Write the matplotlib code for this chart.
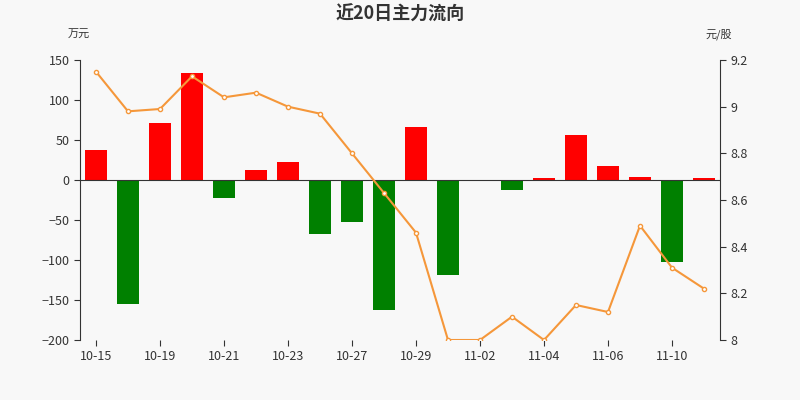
import numpy as np
import matplotlib.pyplot as plt

plt.rcParams['font.family'] = ['Noto Sans CJK SC', 'DejaVu Sans']

dates = ['10-15', '10-18', '10-19', '10-20', '10-21', '10-22', '10-23', '10-26', '10-27', '10-28',
         '10-29', '11-01', '11-02', '11-03', '11-04', '11-05', '11-06', '11-09', '11-10', '11-11']
flow = [37, -155, 71, 134, -22, 13, 23, -68, -52, -163,
        66, -119, -1, -12, 2, 56, 17, 4, -102, 2]
price = [9.15, 8.98, 8.99, 9.13, 9.04, 9.06, 9.00, 8.97, 8.80, 8.63,
         8.46, 8.00, 8.00, 8.10, 8.00, 8.15, 8.12, 8.49, 8.31, 8.22]

bg = '#f8f8f8'
fig = plt.figure(figsize=(8, 4), dpi=100, facecolor=bg)
ax = fig.add_axes([0.1, 0.15, 0.8, 0.7], facecolor=bg)
x = np.arange(len(dates))
colors = ['#ff0000' if v >= 0 else '#008000' for v in flow]
ax.bar(x, flow, width=0.7, color=colors, zorder=2)
ax.axhline(0, color='#333333', lw=0.8, zorder=3)
ax.set_ylim(-200, 150)
ax.set_yticks(range(-200, 151, 50))
ax.set_xlim(-0.5, len(dates) - 0.5)
ax.set_xticks(x[::2])
ax.set_xticklabels(dates[::2])
for s in ['top', 'right']:
    ax.spines[s].set_visible(False)
ax.spines['left'].set_color('#333333')
ax.spines['bottom'].set_visible(False)
ax.tick_params(labelsize=9, colors='#333333', length=4)

ax2 = ax.twinx()
ax2.plot(x, price, color='#f5973a', lw=1.5, marker='o', ms=3,
         markerfacecolor='white', markeredgecolor='#f5973a', zorder=4)
ax2.set_ylim(8, 9.2)
ax2.set_yticks([8, 8.2, 8.4, 8.6, 8.8, 9, 9.2])
ax2.set_yticklabels(['8', '8.2', '8.4', '8.6', '8.8', '9', '9.2'])
for s in ['top', 'left', 'bottom']:
    ax2.spines[s].set_visible(False)
ax2.spines['right'].set_color('#333333')
ax2.tick_params(labelsize=9, colors='#333333', length=4)

fig.text(0.5, 0.965, '近20日主力流向', ha='center', va='center', fontsize=13,
         fontweight='bold', color='#333333')
fig.text(0.085, 0.905, '万元', fontsize=8, color='#333333')
fig.text(0.882, 0.905, '元/股', fontsize=8, color='#333333')

fig.savefig('out.png', dpi=100, facecolor=bg)
